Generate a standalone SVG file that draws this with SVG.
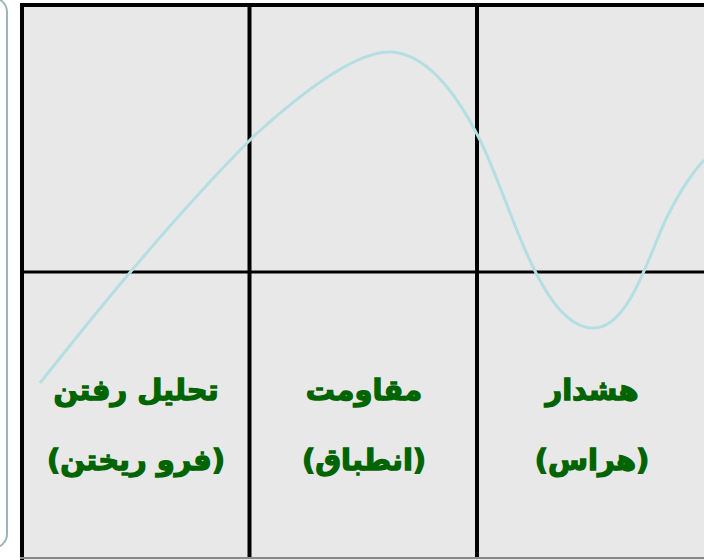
<svg xmlns="http://www.w3.org/2000/svg" width="704" height="560" viewBox="0 0 704 560">
<style>
.cell{fill:#e8e8e8;stroke:#000;stroke-width:4}
.lbl{font-family:"DejaVu Sans",sans-serif;font-weight:bold;font-size:29px;fill:#006400;stroke:#006400;stroke-width:1.3;text-anchor:middle}
</style>
<rect x="0" y="0" width="704" height="560" fill="#ffffff"/>
<rect x="-30" y="-2" width="37" height="550" rx="14" fill="none" stroke="#9fb4b8" stroke-width="2"/>
<g id="grid">
<rect class="cell" x="22" y="5" width="700" height="570"/>
<line x1="249.5" y1="5" x2="249.5" y2="557" stroke="#000" stroke-width="4"/>
<line x1="477" y1="5" x2="477" y2="557" stroke="#000" stroke-width="4"/>
<line x1="22" y1="272" x2="704" y2="272" stroke="#000" stroke-width="3"/>
<line x1="20" y1="558" x2="704" y2="558" stroke="#888" stroke-width="2"/>
</g>
<g id="connectors">
<path d="M40,383 C90,320 170,220 255,135 C310,85 360,50 392,52 C430,55 460,100 480,140 C510,200 540,326 592,328 C630,330 650,250 668,215 C678,195 690,175 704,160" fill="none" stroke="#b3dfe3" stroke-width="3"/>
</g>
<g id="n1">
<text class="lbl" x="136" y="400" direction="rtl">تحليل رفتن</text>
<text class="lbl" x="136" y="470" direction="rtl">(فرو ريختن)</text>
</g>
<g id="n2">
<text class="lbl" x="364" y="400" direction="rtl">مقاومت</text>
<text class="lbl" x="364" y="470" direction="rtl">(انطباق)</text>
</g>
<g id="n3">
<text class="lbl" x="592" y="400" direction="rtl">هشدار</text>
<text class="lbl" x="592" y="470" direction="rtl">(هراس)</text>
</g>
</svg>
